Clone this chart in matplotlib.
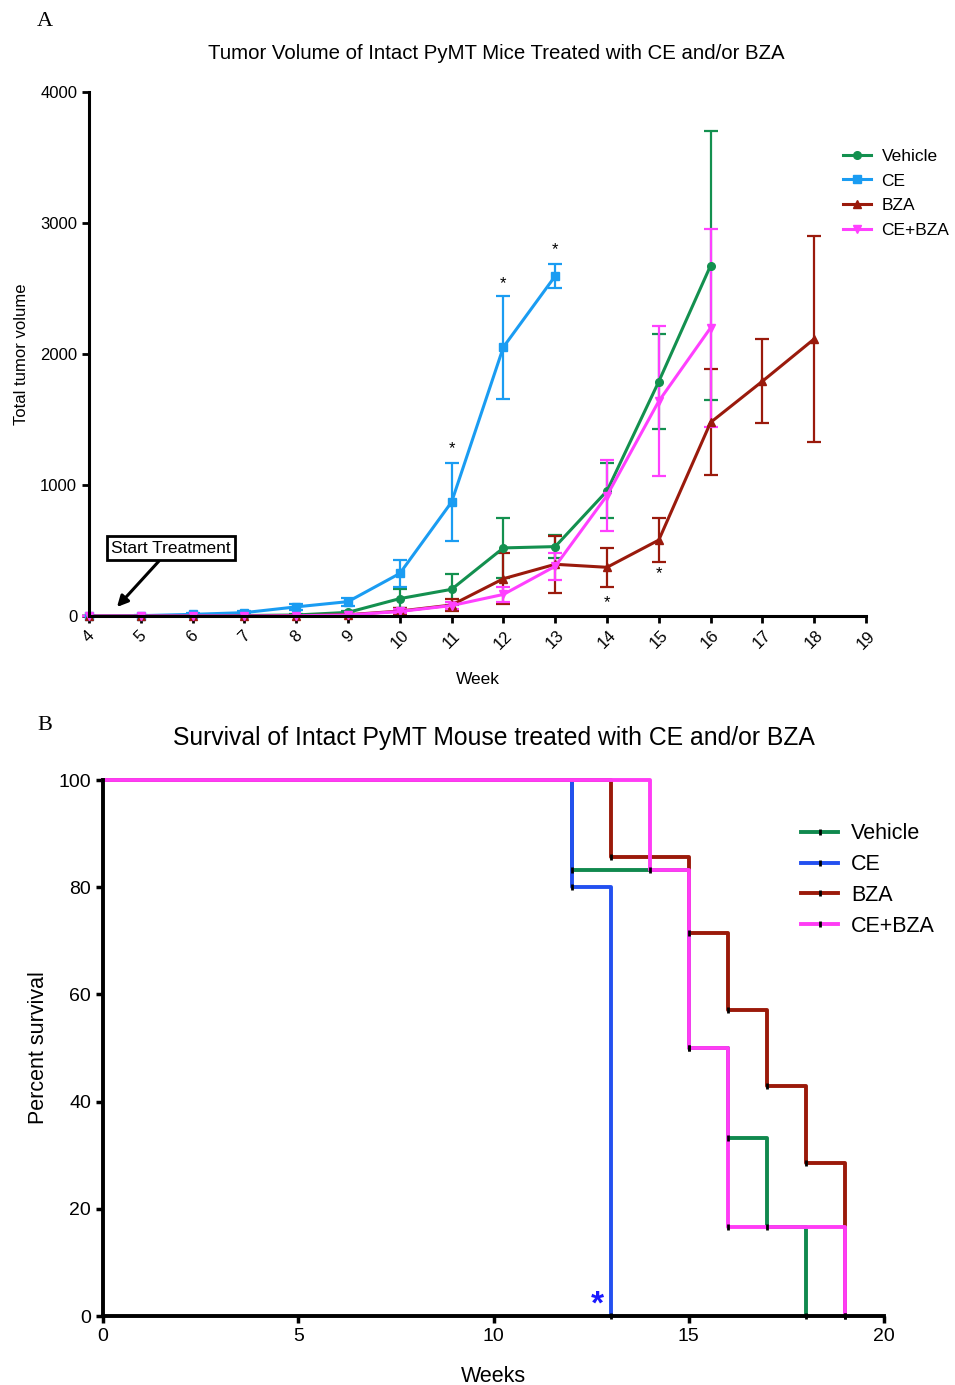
import numpy as np
import matplotlib
matplotlib.use("Agg")
import matplotlib.pyplot as plt
from matplotlib.lines import Line2D

plt.rcParams["font.family"] = ["Liberation Sans", "DejaVu Sans"]

# ================================
# DATA — panel A (tumor volume, mean +/- err)
# ================================
weeks_veh = [4, 5, 6, 7, 8, 9, 10, 11, 12, 13, 14, 15, 16]
veh_mean = [0, 0, 2, 4, 8, 28, 133, 204, 520, 530, 955, 1790, 2675]
veh_err = [0, 0, 2, 3, 5, 10, 75, 120, 230, 90, 210, 360, 1025]

weeks_ce = [4, 5, 6, 7, 8, 9, 10, 11, 12, 13]
ce_mean = [0, 3, 13, 26, 70, 110, 325, 870, 2053, 2595]
ce_err = [0, 3, 8, 10, 25, 30, 100, 295, 393, 92]

weeks_bza = [4, 5, 6, 7, 8, 9, 10, 11, 12, 13, 14, 15, 16, 17, 18]
bza_mean = [0, 0, 0, 0, 3, 10, 38, 84, 285, 395, 372, 580, 1478, 1792, 2115]
bza_err = [0, 0, 0, 0, 3, 8, 20, 45, 195, 218, 148, 165, 405, 320, 785]

weeks_cb = [4, 5, 6, 7, 8, 9, 10, 11, 12, 13, 14, 15, 16]
cb_mean = [0, 0, 0, 0, 2, 8, 35, 80, 165, 380, 920, 1640, 2200]
cb_err = [0, 0, 0, 0, 2, 5, 15, 30, 55, 105, 270, 570, 755]

# significance stars (week, value)
star_x = [11, 12, 13, 14, 15]
star_y = [1275, 2540, 2800, 105, 320]

# ================================
# DATA — panel B (survival, percent)
# ================================
t_veh = [0, 12, 15, 16, 17, 18]
s_veh = [100, 83.3, 50, 33.3, 16.7, 0]
t_ce = [0, 12, 13]
s_ce = [100, 80, 0]
t_bza = [0, 13, 15, 16, 17, 18, 19]
s_bza = [100, 85.7, 71.4, 57.1, 42.9, 28.6, 0]
t_cb = [0, 14, 15, 16, 19]
s_cb = [100, 83.3, 50, 16.7, 0]

labels = ["Vehicle", "CE", "BZA", "CE+BZA"]
colA = ["#13904f", "#1a9cf2", "#9a1a0c", "#ff40ff"]
colB = ["#10894e", "#2350f0", "#9b1a0a", "#ff3cf5"]
markers = ["o", "s", "^", "v"]

fig = plt.figure(figsize=(9.55, 13.85), dpi=100)

# ================================
# PANEL A
# ================================
axA = fig.add_axes([0.0932, 0.5552, 0.8136, 0.3784])

seriesA = [
    (weeks_veh, veh_mean, veh_err),
    (weeks_ce, ce_mean, ce_err),
    (weeks_bza, bza_mean, bza_err),
    (weeks_cb, cb_mean, cb_err),
]
handlesA = []
for (wx, m, e), c, mk, lab in zip(seriesA, colA, markers, labels):
    axA.errorbar(wx, m, yerr=e, color=c, marker=mk, markersize=5.5,
                 linewidth=2.2, elinewidth=1.6, capsize=5, capthick=1.6,
                 clip_on=False)
    handlesA.append(Line2D([], [], color=c, marker=mk, markersize=5.5,
                           linewidth=2.2, label=lab))

for sx, sy in zip(star_x, star_y):
    axA.text(sx, sy, "*", ha="center", va="center", fontsize=12)

axA.annotate("Start Treatment", xy=(4.54, 69), xytext=(5.58, 519),
             ha="center", va="center", fontsize=12.5,
             bbox=dict(boxstyle="square,pad=0.25", fc="white", ec="black", lw=2),
             arrowprops=dict(arrowstyle="-|>", color="black", lw=2.2,
                             mutation_scale=16, shrinkA=0, shrinkB=0))

axA.set_xlim(4, 19)
axA.set_ylim(0, 4000)
axA.set_xticks(range(4, 20))
axA.set_yticks([0, 1000, 2000, 3000, 4000])
for s in ["top", "right"]:
    axA.spines[s].set_visible(False)
for s in ["left", "bottom"]:
    axA.spines[s].set_linewidth(2.2)
axA.tick_params(width=2, length=5, labelsize=12)
plt.setp(axA.get_xticklabels(), rotation=45, ha="center")
axA.set_xlabel("Week", fontsize=12.5, labelpad=15)
axA.set_ylabel("Total tumor volume", fontsize=12, labelpad=8)
axA.set_title("Tumor Volume of Intact PyMT Mice Treated with CE and/or BZA",
              fontsize=14.7, pad=24, x=0.524)
axA.legend(handles=handlesA, loc="upper left", bbox_to_anchor=(0.962, 0.905),
           frameon=False, fontsize=12.5, handlelength=1.6, handletextpad=0.6,
           labelspacing=0.55, borderaxespad=0)

# ================================
# PANEL B
# ================================
axB = fig.add_axes([0.1079, 0.0498, 0.8178, 0.3870])

seriesB = [(t_veh, s_veh), (t_ce, s_ce), (t_bza, s_bza), (t_cb, s_cb)]
handlesB = []
for (tx, sv), c, lab in zip(seriesB, colB, labels):
    axB.step(tx, sv, where="post", color=c, linewidth=2.8, clip_on=False)
    axB.plot(tx[1:], sv[1:], linestyle="none", marker="|", color="black",
             markersize=5, markeredgewidth=2, clip_on=False, zorder=5)
    handlesB.append(Line2D([], [], color=c, linewidth=2.8, marker="|",
                           markersize=5, markeredgewidth=2,
                           markeredgecolor="black", label=lab))

axB.text(12.65, 2.0, "*", color="#1a1aff", fontsize=24, fontweight="bold",
         ha="center", va="center")

axB.set_xlim(0, 20)
axB.set_ylim(0, 100)
axB.set_xticks([0, 5, 10, 15, 20])
axB.set_yticks([0, 20, 40, 60, 80, 100])
for s in ["top", "right"]:
    axB.spines[s].set_visible(False)
for s in ["left", "bottom"]:
    axB.spines[s].set_linewidth(2.8)
axB.tick_params(width=2.5, length=5, labelsize=14)
axB.set_xlabel("Weeks", fontsize=15.5, labelpad=15)
axB.set_ylabel("Percent survival", fontsize=15.5, labelpad=7)
axB.set_title("Survival of Intact PyMT Mouse treated with CE and/or BZA",
              fontsize=17.8, pad=25)
axB.legend(handles=handlesB, loc="upper left", bbox_to_anchor=(0.883, 0.935),
           frameon=False, fontsize=15.5, handlelength=1.7, handletextpad=0.6,
           labelspacing=0.45, borderaxespad=0)

# panel letters
fig.text(45 / 955, 1 - 22 / 1385, "A", family=["Liberation Serif", "DejaVu Serif"],
         fontsize=16, ha="center", va="center")
fig.text(45 / 955, 1 - 725 / 1385, "B", family=["Liberation Serif", "DejaVu Serif"],
         fontsize=16, ha="center", va="center")

fig.savefig("out.png", dpi=100)
